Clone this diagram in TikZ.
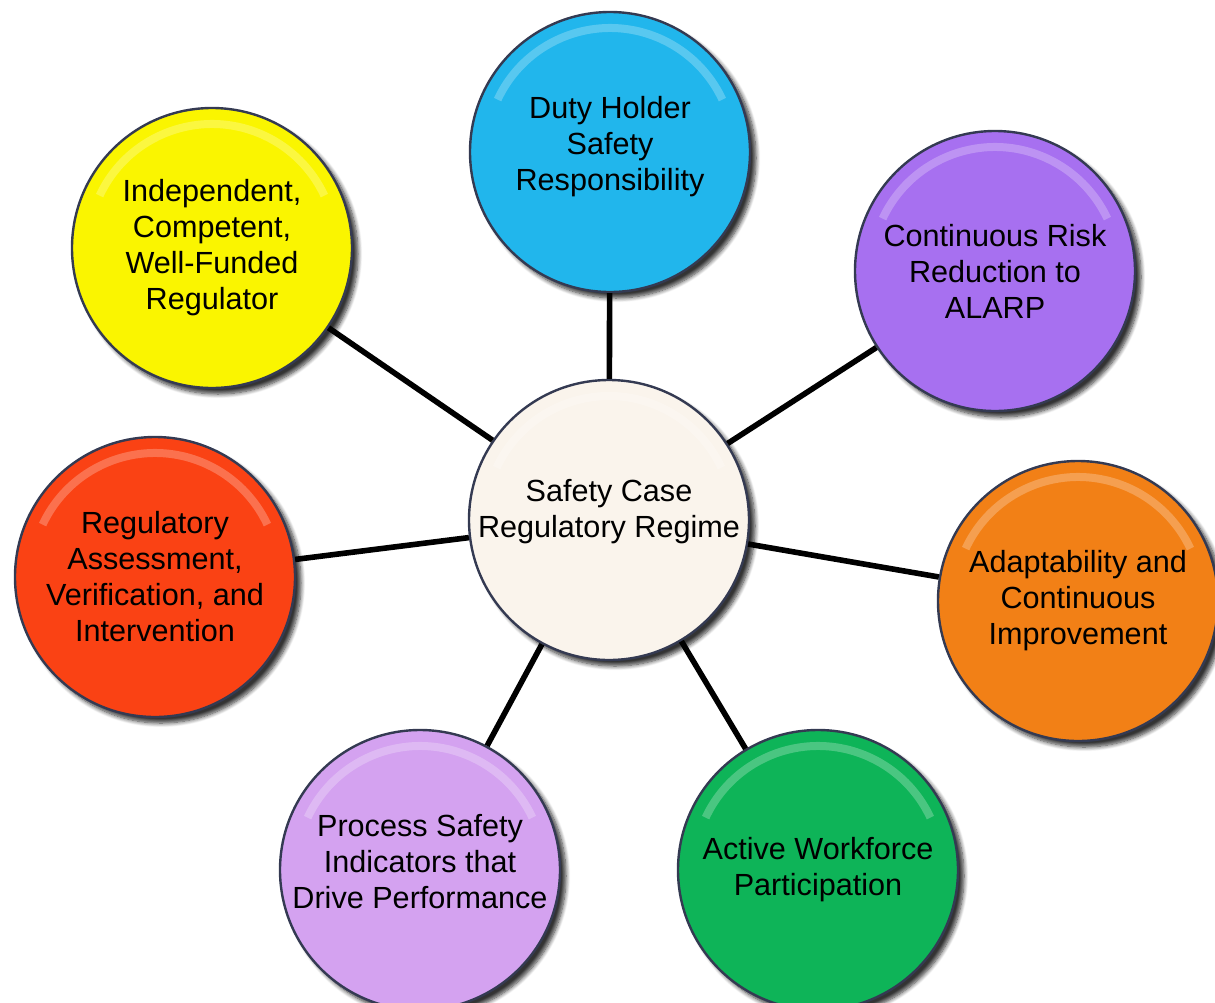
\documentclass[tikz,border=0pt]{standalone}
\usepackage{fontspec}
\setmainfont{Liberation Sans}
\usetikzlibrary{shadows.blur}
\definecolor{creme}{RGB}{250,244,236}
\definecolor{bleu}{RGB}{33,182,236}
\definecolor{jaune}{RGB}{250,245,0}
\definecolor{violet}{RGB}{167,112,240}
\definecolor{rouge}{RGB}{250,66,20}
\definecolor{orange}{RGB}{242,128,22}
\definecolor{vert}{RGB}{14,180,88}
\definecolor{lavande}{RGB}{212,162,240}
\definecolor{bord}{RGB}{52,58,82}
\tikzset{
    bulle/.style={circle,minimum size=140pt,inner sep=0pt,align=center,
      draw=bord,line width=1.2pt,
      font=\fontsize{15.3}{18}\selectfont,
      blur shadow={shadow xshift=3pt,shadow yshift=-3pt,shadow blur steps=8,shadow opacity=80},
      path picture={\draw[white,opacity=.25,line width=4pt]
        (path picture bounding box.center) ++(155:62pt) arc[start angle=155,end angle=25,radius=62pt];}},
    lien/.style={line width=2.8pt,black},
  }
\begin{document}
\begin{tikzpicture}[x=0.5pt,y=-0.5pt]
	\useasboundingbox (0,0) rectangle (1215,1002);
	%CENTRE
	\node[bulle,fill=creme] (regime) at (609,520) {Safety Case\\Regulatory Regime\\[-6pt]};
	
	%BULLES
	\node[bulle,fill=bleu] (duty) at (610,152) {Duty Holder\\Safety\\Responsibility\\[-9pt]};
	\node[bulle,fill=violet] (alarp) at (995,271) {Continuous Risk\\Reduction to\\ALARP};
	\node[bulle,fill=orange] (adapt) at (1078,601) {Adaptability and\\Continuous\\Improvement};
	\node[bulle,fill=vert] (workforce) at (818,870) {Active Workforce\\Participation};
	\node[bulle,fill=lavande] (indicators) at (420,870) {Process Safety\\Indicators that\\Drive Performance\\[-9pt]};
	\node[bulle,fill=rouge] (assessment) at (155,577) {Regulatory\\Assessment,\\Verification, and\\Intervention};
	\node[bulle,fill=jaune] (regulator) at (212,248) {Independent,\\Competent,\\Well-Funded\\Regulator};
	
	%LIENS
	\draw[lien] (regime) -- (duty);
	\draw[lien] (regime) -- (alarp);
	\draw[lien] (regime) -- (adapt);
	\draw[lien] (regime) -- (workforce);
	\draw[lien] (regime) -- (indicators);
	\draw[lien] (regime) -- (assessment);
	\draw[lien] (regime) -- (regulator);
\end{tikzpicture}
\end{document}
